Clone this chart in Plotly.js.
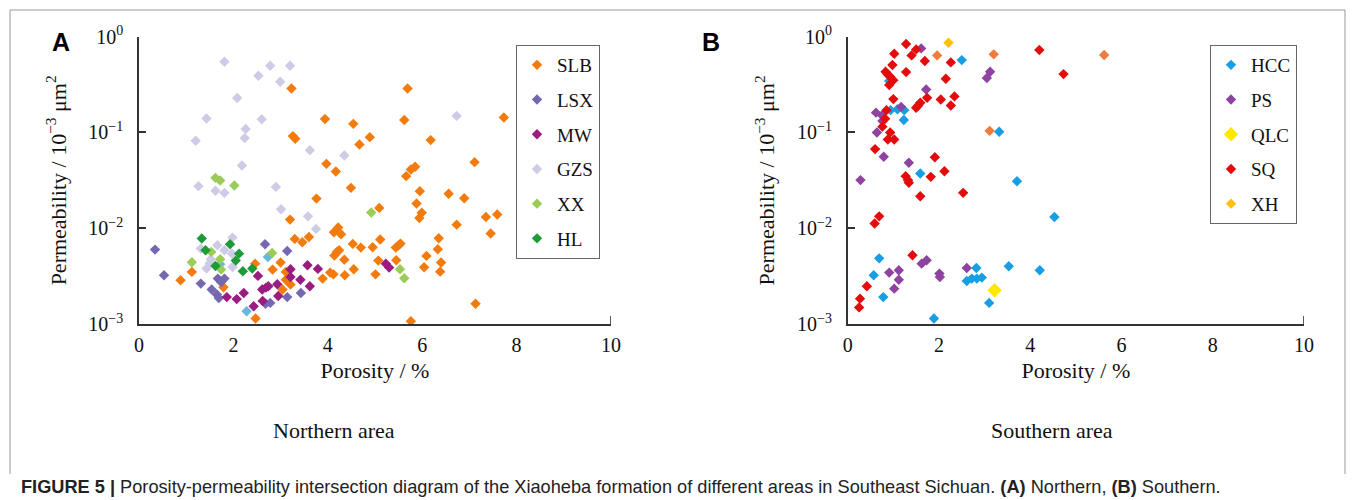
<!DOCTYPE html>
<html>
<head>
<meta charset="utf-8">
<script src="https://cdn.plot.ly/plotly-3.0.1.min.js"></script>
<style>html,body{margin:0;padding:0;background:#fff;}#chart{width:1355px;height:500px;}</style>
</head>
<body>
<div id="chart"></div>
<script>
// ---------- Northern area (A) ----------
const SLB_por = [3.23,3.94,4.54,4.89,4.67,3.26,3.31,3.97,4.17,4.49,3.76,5.09,3.20,4.22,4.13,4.28,3.30,3.46,3.60,4.53,4.70,4.95,5.11,4.14,4.19,4.24,4.35,5.07,4.55,4.05,4.12,4.36,5.01,3.89,2.46,2.83,3.00,3.11,3.11,3.21,3.04,1.12,0.88,1.79,2.47,5.69,5.62,7.73,6.18,7.11,5.85,5.76,5.66,5.95,6.56,6.89,5.88,5.99,5.94,7.35,7.59,6.73,7.45,6.35,5.44,5.50,5.54,6.33,6.09,5.45,6.40,6.04,6.38,7.13,5.76];
const SLB_perm = [0.288,0.138,0.123,0.0894,0.075,0.0916,0.0859,0.047,0.0391,0.0264,0.0204,0.0163,0.0123,0.0102,0.00908,0.00865,0.00774,0.00714,0.00811,0.00686,0.00628,0.00632,0.00762,0.00518,0.00566,0.00589,0.0047,0.00459,0.00373,0.00344,0.0033,0.00323,0.0033,0.00298,0.00427,0.0037,0.00438,0.0035,0.0029,0.00258,0.00229,0.0035,0.00286,0.00242,0.00114,0.288,0.135,0.1435,0.0832,0.049,0.0438,0.041,0.035,0.0244,0.0229,0.0206,0.0181,0.0145,0.0128,0.0131,0.0139,0.0109,0.0088,0.00786,0.00628,0.00664,0.00691,0.00603,0.00514,0.00463,0.00438,0.00391,0.00352,0.00163,0.00107];

const LSX_por = [0.34,0.53,1.31,1.67,1.81,1.74,1.54,1.65,1.69,2.67,3.14,2.68,2.78,3.14,3.43];
const LSX_perm = [0.00598,0.00323,0.00264,0.00298,0.00298,0.00275,0.00229,0.00203,0.00187,0.00681,0.00579,0.00163,0.00166,0.00191,0.00211];

const MW_por = [1.86,2.07,2.22,2.43,2.52,2.61,2.69,2.74,2.62,2.93,2.95,3.21,3.21,3.42,3.57,3.79,3.62,5.23,5.30];
const MW_perm = [0.00191,0.00182,0.00211,0.00153,0.00318,0.00229,0.0024,0.00248,0.00174,0.0026,0.00196,0.00373,0.0031,0.0029,0.0041,0.00376,0.00248,0.00427,0.00388];

const GZS_por = [1.81,2.53,2.78,3.20,2.99,2.08,1.43,2.60,2.26,2.24,1.20,3.62,4.35,2.18,1.26,1.62,1.81,2.90,3.01,3.58,3.75,1.98,1.31,1.66,1.81,1.97,1.52,1.43,1.98,1.50,6.73];
const GZS_perm = [0.548,0.391,0.497,0.497,0.339,0.229,0.140,0.137,0.109,0.0873,0.0818,0.0654,0.0575,0.0452,0.0275,0.0246,0.0234,0.0270,0.0158,0.0133,0.00984,0.00798,0.00613,0.00664,0.00589,0.00543,0.00474,0.00379,0.00394,0.0043,0.149];

const XX_por = [1.62,1.72,2.02,1.12,1.53,1.72,1.74,2.82,4.92,5.53,5.62];
const XX_perm = [0.0336,0.0315,0.0279,0.00441,0.00566,0.00474,0.0037,0.00552,0.0146,0.00373,0.0030];

const HL_por = [1.33,1.41,1.93,2.12,2.05,1.62,2.20,2.40];
const HL_perm = [0.0078,0.00589,0.00681,0.00543,0.00459,0.00404,0.00355,0.00379];

const N_other_por = [2.73,2.28,1.72];
const N_other_perm = [0.00501,0.00136,0.0042];

// ---------- Southern area (B) ----------
const HCC_por = [2.50,0.91,0.94,1.09,1.24,1.23,3.32,1.59,3.71,4.53,0.69,0.57,0.78,1.89,2.82,3.53,4.21,2.61,2.72,2.83,2.94,3.10];
const HCC_perm = [0.570,0.344,0.171,0.175,0.171,0.135,0.1016,0.0373,0.031,0.0131,0.00485,0.00323,0.00191,0.00114,0.00385,0.00401,0.00364,0.00281,0.00298,0.00298,0.00305,0.00166];

const PS_por = [1.61,3.12,3.05,1.72,1.17,0.62,0.75,0.76,0.64,0.79,1.34,0.28,1.62,1.73,0.91,1.12,1.12,1.02,2.01,2.02,2.61];
const PS_perm = [0.755,0.431,0.370,0.281,0.185,0.161,0.151,0.132,0.100,0.0557,0.0482,0.0318,0.00427,0.00463,0.00344,0.00364,0.0029,0.00234,0.00336,0.0031,0.00385];

const QLC_por = [3.22];
const QLC_perm = [0.00225];

const SQ_por = [1.28,1.50,1.40,1.02,1.69,1.28,0.98,0.83,0.88,0.93,1.00,0.91,2.26,2.15,4.20,4.73,1.00,1.74,2.04,2.34,2.26,1.59,1.54,1.50,0.85,0.82,0.76,0.93,0.88,1.02,1.91,2.12,1.82,1.27,1.32,1.34,1.59,2.53,0.69,0.59,1.42,0.42,0.27,0.25,0.60];
const SQ_perm = [0.838,0.737,0.638,0.664,0.557,0.427,0.506,0.431,0.404,0.382,0.352,0.313,0.539,0.364,0.726,0.407,0.223,0.230,0.221,0.238,0.191,0.204,0.190,0.181,0.171,0.139,0.115,0.100,0.0845,0.0845,0.0552,0.0394,0.0344,0.035,0.0318,0.0298,0.0216,0.0234,0.0133,0.0112,0.00522,0.00248,0.00184,0.00149,0.067];

const XH_por = [2.21];
const XH_perm = [0.865];

const S_other_por = [1.96,3.20,3.11,5.62];
const S_other_perm = [0.638,0.654,0.104,0.644];

// ticks
const yTickVals = [1, 0.1, 0.01, 0.001];
const yTickText = ['10<sup>0</sup>', '10<sup>\u22121</sup>', '10<sup>\u22122</sup>', '10<sup>\u22123</sup>'];
const xTickVals = [0, 2, 4, 6, 8, 10];

const SERIF = '"Liberation Serif","Times New Roman",Times,serif';
const SANS = '"Liberation Sans",Arial,Helvetica,sans-serif';

function tr(name, x, y, color, size, xa, ya, leg, show) {
  return {
    type: 'scatter', mode: 'markers', name: name, x: x, y: y,
    xaxis: xa, yaxis: ya, legend: leg, legendgroup: name,
    showlegend: show !== false,
    marker: {symbol: 'diamond', size: size, color: color, line: {width: 0}},
    hoverinfo: 'x+y+name'
  };
}

const data = [
  tr('N-other', N_other_por, N_other_perm, '#66b8de', 8, 'x', 'y', 'legend', false),
  tr('GZS', GZS_por, GZS_perm, '#cecbe6', 8, 'x', 'y', 'legend'),
  tr('SLB', SLB_por, SLB_perm, '#f27b0c', 8, 'x', 'y', 'legend'),
  tr('LSX', LSX_por, LSX_perm, '#7667b1', 8, 'x', 'y', 'legend'),
  tr('MW', MW_por, MW_perm, '#9b1b80', 8, 'x', 'y', 'legend'),
  tr('XX', XX_por, XX_perm, '#9bcc58', 8, 'x', 'y', 'legend'),
  tr('HL', HL_por, HL_perm, '#1e9b38', 8, 'x', 'y', 'legend'),
  tr('S-other', S_other_por, S_other_perm, '#ef7b3c', 8, 'x2', 'y2', 'legend2', false),
  tr('HCC', HCC_por, HCC_perm, '#189ee2', 8, 'x2', 'y2', 'legend2'),
  tr('PS', PS_por, PS_perm, '#8f43a0', 8, 'x2', 'y2', 'legend2'),
  tr('QLC', QLC_por, QLC_perm, '#ffe800', 11, 'x2', 'y2', 'legend2'),
  tr('SQ', SQ_por, SQ_perm, '#e30b0b', 8, 'x2', 'y2', 'legend2'),
  tr('XH', XH_por, XH_perm, '#ffc00f', 8, 'x2', 'y2', 'legend2')
];
// legend order as in the reference
const order = {SLB:1, LSX:2, MW:3, GZS:4, XX:5, HL:6, HCC:1, PS:2, QLC:3, SQ:4, XH:5};
data.forEach(d => { if (order[d.name]) d.legendrank = order[d.name]; });

const W = 1355, H = 500;
const yDom = [1 - 324/H, 1 - 36.7/H];
const axisLine = {showline: true, linecolor: '#333', linewidth: 1.6, showgrid: false, zeroline: false, mirror: false};

function xAxis(dom, anchor) {
  return Object.assign({}, axisLine, {
    domain: dom, anchor: anchor, range: [0, 10], tickvals: xTickVals, ticks: '',
    ticklabelstandoff: 2,
    tickfont: {family: SERIF, size: 20, color: '#111'},
    title: {text: 'Porosity / %', font: {family: SERIF, size: 22, color: '#111'}, standoff: 8}
  });
}
function yAxis(anchor) {
  return Object.assign({}, axisLine, {
    domain: yDom, anchor: anchor, type: 'log', range: [-3, 0],
    tickvals: yTickVals, ticktext: yTickText,
    ticks: 'inside', ticklen: 7, tickwidth: 1.6, tickcolor: '#333',
    ticklabelstandoff: 10,
    tickfont: {family: SERIF, size: 20, color: '#111'},
    title: {text: 'Permeability / 10<sup>\u22123</sup> \u03bcm<sup>2</sup>', font: {family: SERIF, size: 22, color: '#111'}, standoff: 16}
  });
}
function legendBox(xpx) {
  return {
    x: xpx / W, y: 1 - 45/H, xanchor: 'left', yanchor: 'top',
    bordercolor: '#666', borderwidth: 1, bgcolor: 'rgba(255,255,255,0)',
    font: {family: SERIF, size: 19, color: '#111'}, tracegroupgap: 7,
    traceorder: 'grouped'
  };
}

const frame = {color: '#999', width: 1};
const shapes = [
  {type: 'line', xref: 'paper', yref: 'paper', x0: 10/W, x1: 10/W, y0: 1 - 474/H, y1: 1 - 10/H, line: frame},
  {type: 'line', xref: 'paper', yref: 'paper', x0: 10/W, x1: 1345/W, y0: 1 - 10/H, y1: 1 - 10/H, line: frame},
  {type: 'line', xref: 'paper', yref: 'paper', x0: 1345/W, x1: 1345/W, y0: 1 - 474/H, y1: 1 - 10/H, line: frame},
  {type: 'line', xref: 'x', yref: 'paper', x0: 10, x1: 10, y0: yDom[0], y1: yDom[0] + 8/H, line: {color: '#333', width: 1.6}},
  {type: 'line', xref: 'x2', yref: 'paper', x0: 10, x1: 10, y0: yDom[0], y1: yDom[0] + 8/H, line: {color: '#333', width: 1.6}}
];

function ann(text, xpx, ypx, font, xanchor) {
  return {text: text, xref: 'paper', yref: 'paper', x: xpx / W, y: 1 - ypx / H,
          xanchor: xanchor || 'center', yanchor: 'middle', showarrow: false, font: font};
}
const annotations = [
  ann('<b>A</b>', 61, 42, {family: SANS, size: 25, color: '#000'}),
  ann('<b>B</b>', 711, 42, {family: SANS, size: 25, color: '#000'}),
  ann('Northern area', 334, 430, {family: SERIF, size: 22, color: '#111'}),
  ann('Southern area', 1052, 430, {family: SERIF, size: 22, color: '#111'}),
  ann('<b>FIGURE 5 |</b> Porosity-permeability intersection diagram of the Xiaoheba formation of different areas in Southeast Sichuan. <b>(A)</b> Northern, <b>(B)</b> Southern.',
      19, 487, {family: SANS, size: 18.2, color: '#222'}, 'left')
];

const layout = {
  width: W, height: H, margin: {l: 0, r: 0, t: 0, b: 0},
  paper_bgcolor: '#fff', plot_bgcolor: '#fff',
  xaxis: xAxis([139/W, 611/W], 'y'),
  yaxis: yAxis('x'),
  xaxis2: xAxis([847.7/W, 1304/W], 'y2'),
  yaxis2: yAxis('x2'),
  legend: legendBox(516),
  legend2: legendBox(1210),
  shapes: shapes,
  annotations: annotations,
  hovermode: 'closest'
};

Plotly.newPlot('chart', data, layout, {displayModeBar: false});
</script>
</body>
</html>
